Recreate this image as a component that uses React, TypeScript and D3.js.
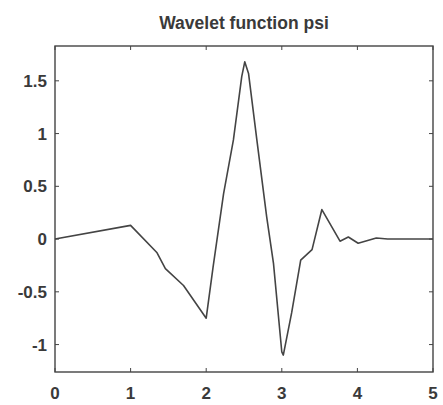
import React from 'react';
import * as d3 from 'd3';

const title = 'Wavelet function psi';
const xValues = [0, 1, 1.35, 1.46, 1.7, 2, 2.09, 2.23, 2.36, 2.47, 2.51, 2.56, 2.67, 2.8, 2.89, 3.0, 3.02, 3.13, 3.25, 3.4, 3.53, 3.77, 3.88, 4.01, 4.25, 4.4, 5];
const psiValues = [0, 0.13, -0.13, -0.28, -0.44, -0.75, -0.27, 0.43, 0.94, 1.54, 1.68, 1.57, 0.94, 0.21, -0.23, -1.07, -1.1, -0.7, -0.2, -0.1, 0.28, -0.02, 0.02, -0.04, 0.01, 0, 0];
const xTicks = [0, 1, 2, 3, 4, 5];
const yTicks = [-1, -0.5, 0, 0.5, 1, 1.5];

const width = 443;
const height = 405;
const margin = { top: 46, right: 10, bottom: 33, left: 55 };

export default function App() {
  const x = d3.scaleLinear().domain([0, 5]).range([margin.left, width - margin.right]);
  const y = d3.scaleLinear().domain([-1.26, 1.83]).range([height - margin.bottom, margin.top]);

  const points: [number, number][] = xValues.map((v, i) => [v, psiValues[i]]);
  const line = d3.line<[number, number]>()
    .x(d => x(d[0]))
    .y(d => y(d[1]));

  const [x0, x1] = x.range();
  const [y0, y1] = y.range();
  const tick = 4;
  const axisColor = '#444';
  const font = '"Liberation Sans", Arial, sans-serif';

  return (
    <svg width={width} height={height} style={{ position: 'absolute', left: 0, top: 0, background: '#fff' }}>
      <text x={(x0 + x1) / 2} y={29} textAnchor="middle" fontFamily={font}
        fontWeight="bold" fontSize={17.5} fill="#3a3a3a">{title}</text>

      <rect x={x0} y={y1} width={x1 - x0} height={y0 - y1} fill="none" stroke={axisColor} strokeWidth={1.4} />

      {xTicks.map(t => (
        <g key={'x' + t}>
          <line x1={x(t)} x2={x(t)} y1={y0} y2={y0 - tick} stroke={axisColor} />
          <line x1={x(t)} x2={x(t)} y1={y1} y2={y1 + tick} stroke={axisColor} />
          <text x={x(t)} y={399} textAnchor="middle" fontFamily={font} fontWeight="bold"
            fontSize={17} fill="#3a3a3a">{t}</text>
        </g>
      ))}

      {yTicks.map(t => (
        <g key={'y' + t}>
          <line x1={x0} x2={x0 + tick} y1={y(t)} y2={y(t)} stroke={axisColor} />
          <line x1={x1} x2={x1 - tick} y1={y(t)} y2={y(t)} stroke={axisColor} />
          <text x={x0 - 8} y={y(t)} dy="0.36em" textAnchor="end" fontFamily={font} fontWeight="bold"
            fontSize={17} fill="#3a3a3a">{t}</text>
        </g>
      ))}

      <path d={line(points) ?? ''} fill="none" stroke="#444" strokeWidth={1.6} strokeLinejoin="round" />
    </svg>
  );
}
